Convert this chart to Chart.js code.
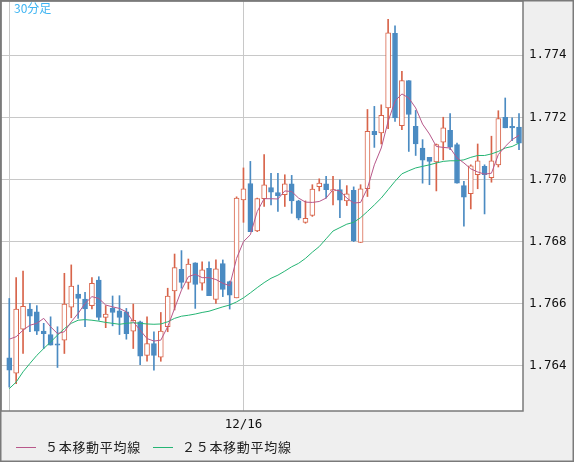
<!DOCTYPE html>
<html><head><meta charset="utf-8">
<script src="https://cdn.jsdelivr.net/npm/chart.js@4/dist/chart.umd.min.js"></script>
<style>html,body{margin:0;padding:0;background:#efefef}#wrap{width:574px;height:462px}</style>
</head><body><div id="wrap"><canvas id="c" width="574" height="462"></canvas></div>
<script>
const chartTitle = '30分足';
const openV  = [1.76426,1.76377,1.76518,1.76583,1.76574,1.76512,1.76501,1.76471,1.76483,1.76589,1.76631,1.76615,1.76594,1.76676,1.76556,1.76585,1.76577,1.76574,1.76512,1.76542,1.76434,1.76472,1.76428,1.76526,1.76641,1.76711,1.76669,1.76732,1.76666,1.76714,1.76614,1.76729,1.76671,1.76619,1.76934,1.76987,1.76834,1.76938,1.76974,1.76958,1.76951,1.76986,1.76931,1.76862,1.76884,1.76977,1.76986,1.76963,1.76967,1.76931,1.76965,1.76797,1.76970,1.77155,1.77150,1.77230,1.77470,1.77173,1.77318,1.77171,1.77101,1.77071,1.77056,1.77120,1.77158,1.77112,1.76980,1.76954,1.77015,1.77042,1.77006,1.77047,1.77200,1.77171,1.77168];
const highV  = [1.76617,1.76684,1.76705,1.76601,1.76594,1.76537,1.76558,1.76526,1.76698,1.76725,1.76660,1.76637,1.76684,1.76687,1.76594,1.76625,1.76626,1.76585,1.76599,1.76544,1.76558,1.76510,1.76572,1.76650,1.76760,1.76771,1.76744,1.76732,1.76735,1.76735,1.76741,1.76741,1.76673,1.76944,1.77037,1.77058,1.76940,1.77080,1.77020,1.77020,1.77015,1.77013,1.76933,1.76931,1.76983,1.77002,1.77010,1.77010,1.76999,1.76980,1.76976,1.76983,1.77225,1.77235,1.77240,1.77515,1.77494,1.77348,1.77318,1.77222,1.77128,1.77071,1.77114,1.77200,1.77212,1.77117,1.76994,1.77047,1.77114,1.77047,1.77139,1.77221,1.77262,1.77198,1.77212];
const lowV   = [1.76332,1.76343,1.76440,1.76510,1.76501,1.76456,1.76467,1.76395,1.76440,1.76555,1.76553,1.76526,1.76583,1.76547,1.76523,1.76529,1.76501,1.76486,1.76456,1.76404,1.76415,1.76386,1.76415,1.76510,1.76580,1.76650,1.76647,1.76585,1.76644,1.76626,1.76601,1.76623,1.76583,1.76619,1.76862,1.76832,1.76832,1.76913,1.76918,1.76897,1.76913,1.76891,1.76870,1.76859,1.76881,1.76963,1.76940,1.76918,1.76877,1.76916,1.76800,1.76797,1.76945,1.77103,1.77114,1.77163,1.77187,1.77160,1.77090,1.77077,1.76988,1.76983,1.76963,1.77063,1.77096,1.76988,1.76850,1.76905,1.76970,1.76889,1.76991,1.77040,1.77166,1.77125,1.77096];
const closeV = [1.76386,1.76583,1.76592,1.76560,1.76512,1.76504,1.76467,1.76467,1.76599,1.76657,1.76617,1.76583,1.76666,1.76556,1.76567,1.76572,1.76556,1.76504,1.76547,1.76431,1.76472,1.76434,1.76512,1.76625,1.76716,1.76669,1.76728,1.76662,1.76709,1.76626,1.76712,1.76646,1.76628,1.76940,1.76970,1.76832,1.76938,1.76983,1.76959,1.76948,1.76986,1.76931,1.76875,1.76875,1.76969,1.76988,1.76967,1.76967,1.76933,1.76954,1.76802,1.76970,1.77155,1.77144,1.77206,1.77472,1.77198,1.77318,1.77209,1.77114,1.77062,1.77058,1.77112,1.77166,1.77104,1.76988,1.76943,1.77044,1.77060,1.77015,1.77060,1.77196,1.77166,1.77166,1.77117];
const ma5V = [1.76486,1.76494,1.76515,1.76531,1.76537,1.76553,1.76526,1.76504,1.76510,1.76542,1.76569,1.76601,1.76623,1.76617,1.76596,1.76590,1.76585,1.76574,1.76542,1.76515,1.76488,1.76480,1.76483,1.76526,1.76585,1.76644,1.76687,1.76695,1.76684,1.76684,1.76678,1.76666,1.76658,1.76746,1.76800,1.76822,1.76897,1.76938,1.76938,1.76937,1.76963,1.76961,1.76940,1.76927,1.76926,1.76929,1.76940,1.76967,1.76963,1.76940,1.76924,1.76926,1.76972,1.77047,1.77101,1.77187,1.77252,1.77275,1.77262,1.77230,1.77178,1.77146,1.77106,1.77103,1.77101,1.77069,1.77053,1.77034,1.77024,1.77017,1.77020,1.77080,1.77106,1.77128,1.77142];
const ma25V = [1.76327,1.76348,1.76381,1.76408,1.76434,1.76456,1.76477,1.76499,1.76520,1.76537,1.76547,1.76549,1.76547,1.76544,1.76540,1.76537,1.76534,1.76537,1.76539,1.76537,1.76535,1.76534,1.76535,1.76542,1.76553,1.76560,1.76563,1.76567,1.76572,1.76576,1.76583,1.76590,1.76596,1.76606,1.76619,1.76635,1.76652,1.76668,1.76682,1.76692,1.76705,1.76719,1.76730,1.76746,1.76766,1.76784,1.76809,1.76834,1.76845,1.76856,1.76862,1.76877,1.76897,1.76918,1.76940,1.76967,1.76994,1.77018,1.77028,1.77037,1.77042,1.77047,1.77053,1.77058,1.77060,1.77060,1.77063,1.77071,1.77077,1.77077,1.77082,1.77090,1.77101,1.77106,1.77117];
const timeTickIdx = [0, 34];
const timeTickLabels = ['', '12/16'];
const priceTicks = [1.764, 1.766, 1.768, 1.770, 1.772, 1.774];
const legendLabels = ['５本移動平均線', '２５本移動平均線'];

const UP='#d8644a', DOWN='#4b8bc2', MA5C='#b8588a', MA25C='#25b574';
const up = closeV.map((c,i)=>c>=openV[i]);
const wickData = highV.map((h,i)=>({x:i,y:[lowV[i],h]}));
const bodyData = openV.map((o,i)=>({x:i,y:[Math.min(o,closeV[i]),Math.max(o,closeV[i])]}));
function noPad(s){s.paddingTop=0;s.paddingBottom=0;s.paddingLeft=0;s.paddingRight=0;}

const bgPlugin = {
  id:'bg',
  beforeDraw(ch){
    const c=ch.ctx, a=ch.chartArea;
    c.save();
    c.fillStyle='#efefef'; c.fillRect(0,0,ch.width,ch.height);
    c.fillStyle='#ffffff'; c.fillRect(a.left,a.top,a.right-a.left,a.bottom-a.top);
    c.restore();
  },
  afterDraw(ch){
    const c=ch.ctx, a=ch.chartArea;
    c.save();
    c.strokeStyle='#7a7a7a'; c.lineWidth=1.5;
    c.strokeRect(a.left,a.top,a.right-a.left,a.bottom-a.top);
    c.strokeRect(0.75,0.75,ch.width-1.5,ch.height-1.5);
    c.fillStyle='#3db4f2'; c.font='12px "Noto Sans CJK JP"'; c.textBaseline='top';
    c.fillText(chartTitle,14,2);
    const cols=[MA5C,MA25C], xs=[16,153];
    c.font='13px "Noto Sans CJK JP"'; c.textBaseline='middle'; c.fillStyle='#222';
    legendLabels.forEach((t,i)=>{
      c.strokeStyle=cols[i]; c.lineWidth=1;
      c.beginPath(); c.moveTo(xs[i],447.5); c.lineTo(xs[i]+20,447.5); c.stroke();
      let x=xs[i]+29;
      for(const ch2 of t){ c.fillText(ch2,x,447); x+=13.7; }
    });
    c.restore();
  }
};

new Chart(document.getElementById('c'),{
  data:{datasets:[
    {type:'line',data:ma5V.map((v,i)=>({x:i,y:v})),borderColor:MA5C,borderWidth:1,pointRadius:0,order:1},
    {type:'line',data:ma25V.map((v,i)=>({x:i,y:v})),borderColor:MA25C,borderWidth:1,pointRadius:0,order:1},
    {type:'bar',data:bodyData,grouped:false,barThickness:5,minBarLength:1,borderSkipped:false,borderWidth:1,
      backgroundColor:up.map(u=>u?'#ffffff':DOWN),borderColor:up.map(u=>u?UP:DOWN),order:2},
    {type:'bar',data:wickData,grouped:false,barThickness:1,borderWidth:0,
      backgroundColor:up.map(u=>u?UP:DOWN),order:3}
  ]},
  options:{
    responsive:false,animation:false,
    layout:{autoPadding:false,padding:{left:1,top:1,right:0,bottom:0}},
    plugins:{legend:{display:false},tooltip:{enabled:false}},
    scales:{
      x:{type:'linear',bounds:'data',min:-1.2,max:74.58,offset:false,
        afterBuildTicks(s){s.ticks=timeTickIdx.map(v=>({value:v}));},
        afterFit(s){s.height=51;noPad(s);},
        ticks:{callback:(v)=>timeTickLabels[timeTickIdx.indexOf(v)]??'',maxRotation:0,autoSkip:false,padding:6,color:'#111',font:{family:'DejaVu Sans Mono',size:12.5}},
        grid:{color:'#c8c8c8',drawTicks:false,offset:false},border:{display:false}},
      y:{position:'right',bounds:'data',min:1.76255,max:1.77574,
        afterBuildTicks(s){s.ticks=priceTicks.map(v=>({value:v}));},
        afterFit(s){s.width=51;noPad(s);},
        ticks:{callback:v=>v.toFixed(3),padding:6,color:'#111',font:{family:'DejaVu Sans Mono',size:12.5}},
        grid:{color:'#c8c8c8',drawTicks:false},border:{display:false}}
    }
  },
  plugins:[bgPlugin]
});
</script></body></html>
